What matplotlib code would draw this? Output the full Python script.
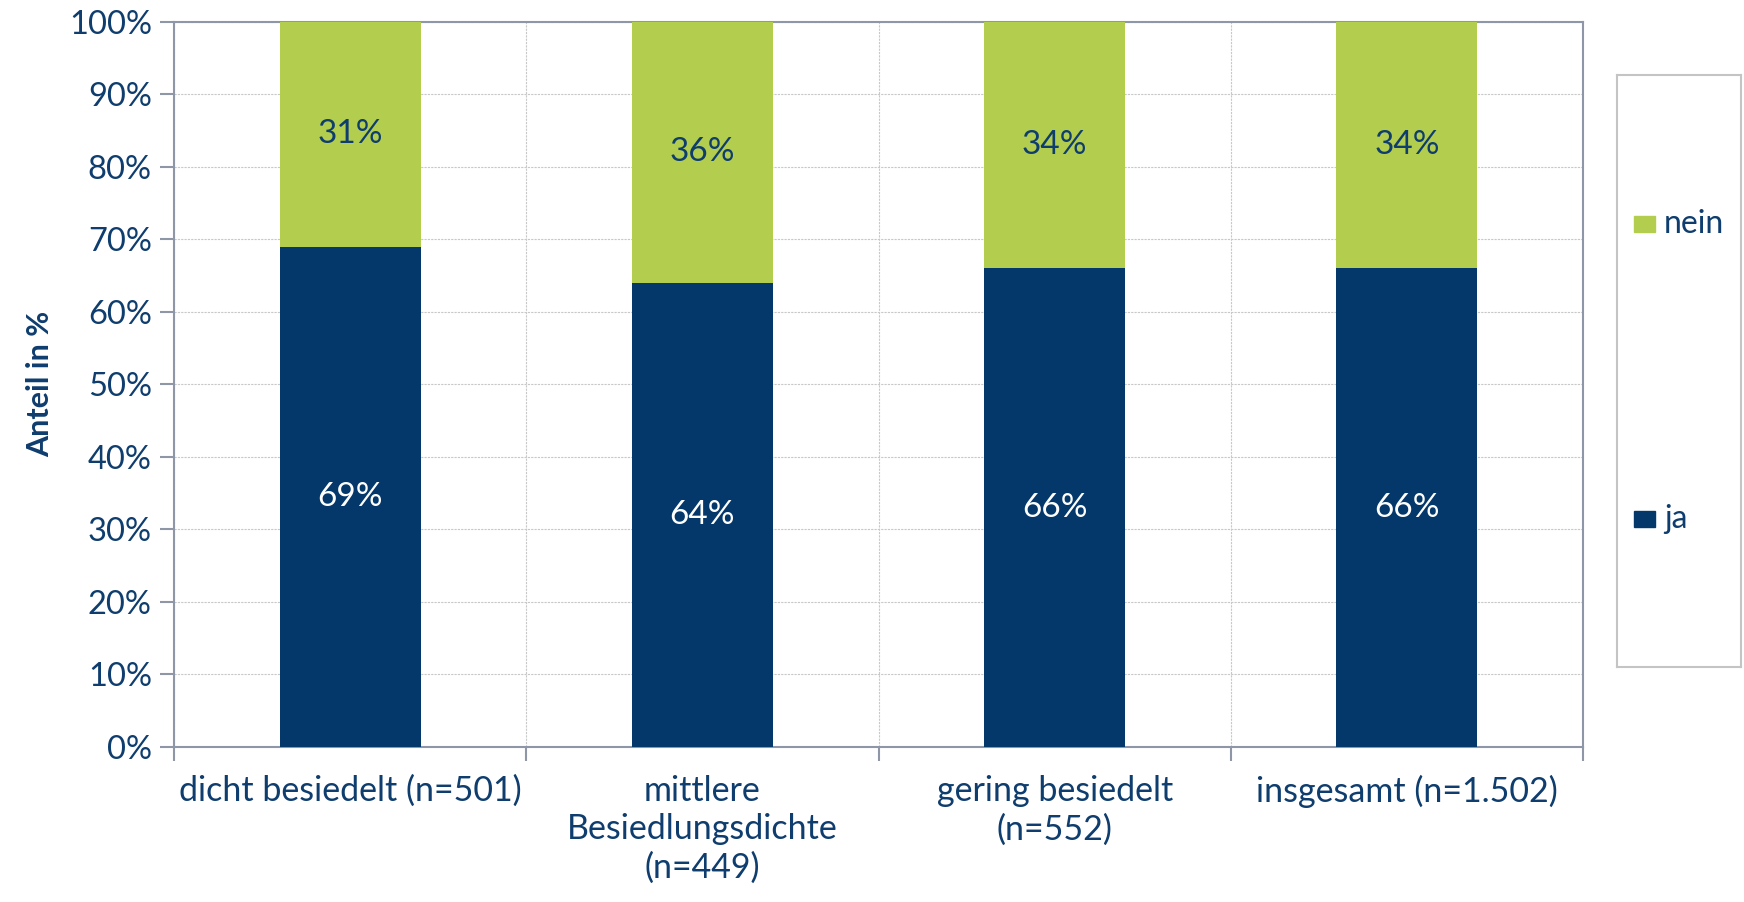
import matplotlib.pyplot as plt
import numpy as np

# Anteile ja / nein nach Besiedlungsdichte
kategorien = ["dicht besiedelt (n=501)", "mittlere\nBesiedlungsdichte\n(n=449)",
              "gering besiedelt\n(n=552)", "insgesamt (n=1.502)"]
ja = [69, 64, 66, 66]
nein = [31, 36, 34, 34]
yticks = [0, 10, 20, 30, 40, 50, 60, 70, 80, 90, 100]

blau = "#04386A"
gruen = "#B3CD4E"
text_farbe = "#0E3D6E"
achse = "#8E96A8"

plt.rcParams['font.family'] = ['Lato', 'DejaVu Sans']

fig = plt.figure(figsize=(17.44, 9.02), dpi=100)
ax = fig.add_axes([0.0998, 0.172, 0.8079, 0.8036])

x = np.arange(len(kategorien))
ax.bar(x, ja, width=0.40, color=blau, zorder=3)
ax.bar(x, nein, width=0.40, bottom=ja, color=gruen, zorder=3)

for i in range(len(x)):
    ax.text(x[i], ja[i] / 2, f"{ja[i]}%", ha='center', va='center',
            color='white', fontsize=24, zorder=4)
    ax.text(x[i], ja[i] + nein[i] / 2, f"{nein[i]}%", ha='center', va='center',
            color=text_farbe, fontsize=24, zorder=4)

ax.set_xlim(-0.5, len(kategorien) - 0.5)
ax.set_ylim(0, 100)
ax.set_yticks(yticks)
ax.set_yticklabels([f"{t}%" for t in yticks], fontsize=23.5, color=text_farbe)

# Kategorien mittig, Striche an den Grenzen
ax.set_xticks(x)
ax.set_xticklabels(kategorien, fontsize=24.5, color=text_farbe, linespacing=1.25)
ax.tick_params(axis='x', length=0, pad=20)
ax.set_xticks(np.arange(-0.5, len(kategorien), 1), minor=True)
ax.tick_params(axis='x', which='minor', length=10, width=1.5, color=achse, direction='out')
ax.tick_params(axis='y', length=10, width=1.5, color=achse, direction='out', pad=6)

ax.grid(axis='y', which='major', color='#C8C8C8', linestyle=(0, (2, 1)), linewidth=0.8, zorder=0)
ax.grid(axis='x', which='minor', color='#C8C8C8', linestyle=(0, (2, 1)), linewidth=0.8, zorder=0)

for s in ax.spines.values():
    s.set_color(achse)
    s.set_linewidth(1.5)

ax.set_ylabel("Anteil in %", fontsize=22, fontweight='bold', color=text_farbe, labelpad=10)
ax.yaxis.set_label_coords(-0.085, 0.5)

# Legende in eigenem Rahmen rechts
leg_ax = fig.add_axes([1617 / 1744, 1 - 667 / 902, 124 / 1744, 592 / 902])
leg_ax.set_xticks([])
leg_ax.set_yticks([])
for s in leg_ax.spines.values():
    s.set_color('#C4C4C4')
    s.set_linewidth(1.5)
leg_ax.set_xlim(0, 1)
leg_ax.set_ylim(0, 1)
eintraege = [("nein", gruen, 1 - (224 - 75) / 592), ("ja", blau, 1 - (519 - 75) / 592)]
for name, farbe, yy in eintraege:
    leg_ax.add_patch(plt.Rectangle((0.14, yy - 0.0135), 0.17, 0.027, color=farbe))
    leg_ax.text(0.38, yy, name, fontsize=23, color=text_farbe, va='center', ha='left')

fig.savefig("out.png", dpi=100)
